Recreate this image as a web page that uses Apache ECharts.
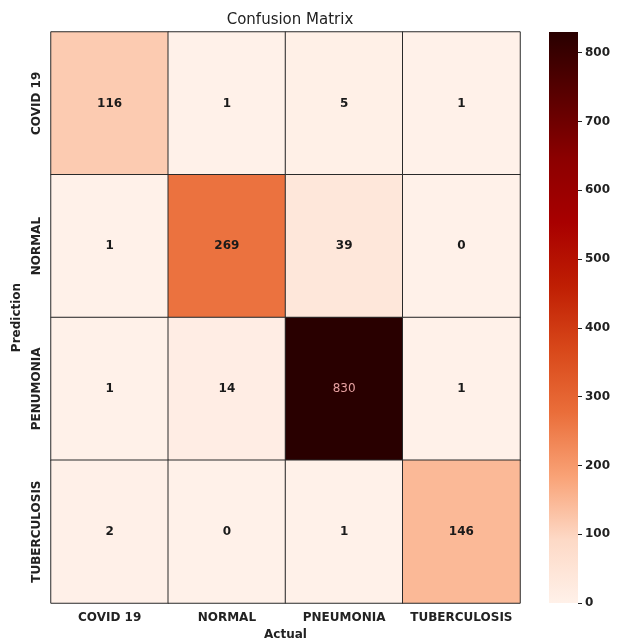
<!DOCTYPE html>
<html>
<head>
<meta charset="utf-8">
<script src="https://cdn.jsdelivr.net/npm/echarts@6/dist/echarts.min.js"></script>
<style>
  html, body { margin: 0; padding: 0; background: #ffffff; }
  #chart { width: 626px; height: 642px; }
</style>
</head>
<body>
<div id="chart"></div>
<script>
// Class labels: columns are the actual class, rows the predicted class
const actualLabels = ['COVID 19', 'NORMAL', 'PNEUMONIA', 'TUBERCULOSIS'];
const predictionLabels = ['COVID 19', 'NORMAL', 'PENUMONIA', 'TUBERCULOSIS'];

// Counts per prediction row
const rowCovid = [116, 1, 5, 1];
const rowNormal = [1, 269, 39, 0];
const rowPneumonia = [1, 14, 830, 1];
const rowTuberculosis = [2, 0, 1, 146];

// Colour bar range and ticks
const colorMin = 0;
const colorMax = 830;
const colorTicks = [0, 100, 200, 300, 400, 500, 600, 700, 800];

// Colour ramp from low to high counts
const palette = ['#fff1e9', '#fdd9c6', '#f9a276', '#ea6e3a', '#d8481a',
                 '#bf1e03', '#a80000', '#8c0000', '#5a0000', '#290000'];

const rows = [rowCovid, rowNormal, rowPneumonia, rowTuberculosis];
const FONT = 'DejaVu Sans';

const cells = [];
rows.forEach((row, r) => {
  row.forEach((v, c) => {
    const item = { value: [c, r, v] };
    if (v > colorMax * 0.7) {
      item.label = { color: '#e6a0a0', fontWeight: 'normal' };
    }
    cells.push(item);
  });
});

// Vertical gradient for the colour bar (offset 0 = top = max value)
const barGradient = new echarts.graphic.LinearGradient(0, 0, 0, 1,
  palette.slice().reverse().map((c, i) => ({ offset: i / (palette.length - 1), color: c })));

const chart = echarts.init(document.getElementById('chart'), null, { renderer: 'canvas' });

chart.setOption({
  backgroundColor: '#ffffff',
  animation: false,
  title: {
    text: 'Confusion Matrix',
    left: 285,
    top: 8,
    textAlign: 'center',
    textStyle: { fontFamily: FONT, fontSize: 15, fontWeight: 'normal', color: '#222' }
  },
  grid: [
    { left: 51, top: 32, width: 469, height: 571, containLabel: false, outerBoundsMode: 'none' },
    { left: 549, top: 32, width: 29, height: 571, containLabel: false, outerBoundsMode: 'none' }
  ],
  xAxis: [
    {
      gridIndex: 0,
      type: 'category',
      data: actualLabels,
      name: 'Actual',
      nameLocation: 'middle',
      nameGap: 25,
      nameTextStyle: { fontFamily: FONT, fontSize: 12, fontWeight: 'bold', color: '#222' },
      axisLine: { show: false },
      axisTick: { show: false },
      splitArea: { show: false },
      axisLabel: { fontFamily: FONT, fontSize: 12, fontWeight: 'bold', color: '#222', margin: 9, interval: 0 }
    },
    {
      gridIndex: 1,
      type: 'category',
      data: [''],
      show: false
    }
  ],
  yAxis: [
    {
      gridIndex: 0,
      type: 'category',
      data: predictionLabels,
      inverse: true,
      name: 'Prediction',
      nameLocation: 'middle',
      nameGap: 27,
      nameRotate: 90,
      nameTextStyle: { fontFamily: FONT, fontSize: 12, fontWeight: 'bold', color: '#222' },
      axisLine: { show: false },
      axisTick: { show: false },
      axisLabel: { fontFamily: FONT, fontSize: 12, fontWeight: 'bold', color: '#222', rotate: 90, margin: 8, interval: 0 }
    },
    {
      gridIndex: 1,
      type: 'value',
      position: 'right',
      min: colorMin,
      max: colorMax,
      interval: 100,
      axisLine: { show: false },
      splitLine: { show: false },
      axisTick: { show: true, length: 4, customValues: colorTicks, lineStyle: { color: '#222', width: 1 } },
      axisLabel: {
        fontFamily: FONT, fontSize: 12, fontWeight: 'bold', color: '#222', margin: 7,
        customValues: colorTicks,
        formatter: v => String(v)
      }
    }
  ],
  visualMap: {
    type: 'continuous',
    show: false,
    seriesIndex: 0,
    min: colorMin,
    max: colorMax,
    inRange: { color: palette }
  },
  series: [
    {
      type: 'heatmap',
      xAxisIndex: 0,
      yAxisIndex: 0,
      data: cells,
      itemStyle: { borderColor: '#2a2a2a', borderWidth: 1 },
      label: {
        show: true,
        formatter: p => String(p.value[2]),
        fontFamily: FONT,
        fontSize: 12,
        fontWeight: 'bold',
        color: '#1a1a1a'
      },
      emphasis: { disabled: true }
    },
    {
      // colour bar: one full-width bar spanning the colour range
      type: 'bar',
      xAxisIndex: 1,
      yAxisIndex: 1,
      barWidth: '100%',
      data: [colorMax],
      itemStyle: { color: barGradient },
      silent: true
    }
  ]
});
</script>
</body>
</html>
